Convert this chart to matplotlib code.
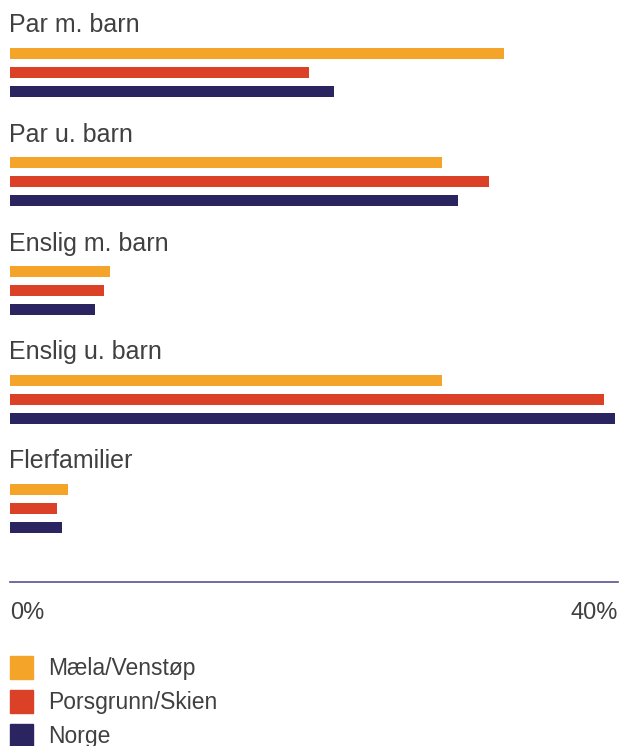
import matplotlib.pyplot as plt
from matplotlib.patches import Rectangle

categories = ['Par m. barn', 'Par u. barn', 'Enslig m. barn', 'Enslig u. barn', 'Flerfamilier']
series = ['Mæla/Venstøp', 'Porsgrunn/Skien', 'Norge']
maela = [32.5, 28.4, 6.6, 28.4, 3.8]
porsgrunn = [19.7, 31.5, 6.2, 39.1, 3.1]
norge = [21.3, 29.5, 5.6, 39.8, 3.4]
colors = ['#F5A42A', '#DA4126', '#2A2560']
ticks = [0, 40]
tick_labels = ['0%', '40%']

plt.rcParams['font.family'] = ['Liberation Sans', 'DejaVu Sans']
W, H = 619, 746
fig = plt.figure(figsize=(W / 100, H / 100), dpi=100)

# axes in pixel-like y units, x in percent
x0, x1 = 10, 618
ax = fig.add_axes([x0 / W, 0, (x1 - x0) / W, 1])
ax.set_xlim(0, 40)
ax.set_ylim(H, 0)
ax.axis('off')

txt = '#404040'
for i, cat in enumerate(categories):
    base = 109 * i
    ax.text(-0.05, base + 25.5, cat, fontsize=18, color=txt, va='center', ha='left',
            clip_on=False)
    for j, vals in enumerate([maela, porsgrunn, norge]):
        ax.barh(base + 53.5 + 19 * j, vals[i], height=11.5, left=0,
                color=colors[j], edgecolor='none')

# axis line
ax.plot([0, 40], [582, 582], color='#5A5290', lw=1.2, clip_on=False)
for t, lab in zip(ticks, tick_labels):
    ax.text(t, 613, lab, fontsize=17, color=txt, va='center',
            ha='left' if t == 0 else 'right', clip_on=False)

# legend
for j, name in enumerate(series):
    y = 656 + 34 * j
    fig.patches.append(Rectangle((10 / W, 1 - (y + 23) / H), 23 / W, 23 / H,
                                 transform=fig.transFigure, color=colors[j]))
    fig.text(48 / W, 1 - (y + 12) / H, name, fontsize=16.5, color=txt,
             va='center', ha='left')

fig.savefig('out.png', dpi=100)
